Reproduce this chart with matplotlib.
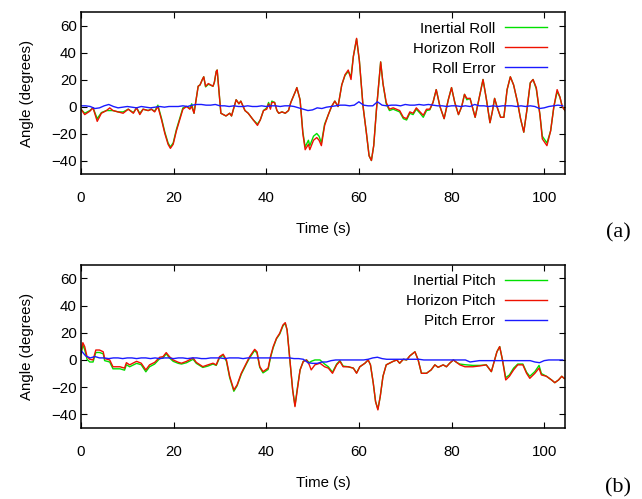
import matplotlib
matplotlib.use("Agg")
import matplotlib.pyplot as plt

plt.rcParams['font.family'] = ['Liberation Sans', 'DejaVu Sans']

# ---------------- Roll data (top panel) ----------------
roll_t = [0, 0.8, 1.9, 2.6, 3.5, 4.4, 5.5, 6.2, 6.9, 8.0,
          9.1, 10.2, 11.3, 12.0, 12.7, 13.4, 14.5, 15.2, 15.9, 16.6,
          17.4, 18.1, 18.8, 19.3, 19.9, 20.6, 21.3, 22.0, 22.8, 23.5,
          23.9, 24.4, 25.3, 25.7, 26.2, 26.5, 26.9, 27.5, 28.5, 28.8,
          29.2, 29.4, 30.2, 31.3, 32.1, 32.5, 33.5, 34.1, 34.5, 35.4,
          36.1, 37.2, 38.1, 38.7, 39.4, 40.1, 40.5, 40.9, 41.2, 41.8,
          42.3, 42.7, 43.4, 44.1, 44.8, 45.3, 46.4, 46.6, 47.3, 47.9,
          48.4, 49.1, 49.4, 50.2, 50.9, 51.4, 51.9, 52.6, 53.4, 54.1,
          54.8, 55.5, 56.3, 57.0, 57.7, 58.3, 58.8, 59.5, 60.1, 60.9,
          61.6, 62.2, 62.7, 63.2, 63.8, 64.3, 64.7, 65.2, 65.9, 66.6,
          67.4, 68.1, 68.8, 69.6, 70.3, 71.0, 71.7, 72.4, 73.2, 73.9,
          74.6, 75.3, 76.0, 76.7, 77.5, 78.4, 79.3, 80.0, 80.7, 81.5,
          82.2, 82.8, 83.3, 84.0, 84.8, 85.1, 85.9, 86.8, 87.5, 88.3,
          88.8, 89.3, 89.8, 90.6, 91.3, 92.0, 92.7, 93.4, 94.2, 94.9,
          95.6, 96.3, 97.0, 97.6, 98.3, 99.1, 99.6, 100.6, 101.4, 102.1,
          102.8, 103.4, 103.9, 104.5]

horizon_roll = [-2, -6, -3.5, -1, -11, -5, -3, -1, -3, -4,
                -5, -2, -5, -1, -6, -2, -3, -2, -4, 0,
                -10, -20, -28, -31, -28, -18, -10, -2, 0, -2,
                0, -5, 15, 16, 20, 22, 15, 17, 15, 18,
                26, 27, -5, -7, -5, -7, 5, 2, 4, -3,
                -5, -10, -14, -10, -3, -2, 2, -2, 3, 3,
                -3, -5, -4, -5, -3, 3, 12, 14, 5, -20,
                -32, -28, -32, -25, -23, -25, -29, -14, -6, 0,
                4, 0, 16, 23.5, 27, 20, 37, 50.5, 34, 0,
                -19, -36.5, -40, -29, -2, 17.5, 33, 17, 3, -2,
                -1, -2, -3, -8, -9, -4, -5, -1, -4, -6.5,
                -2, -2, 3, 12.5, 0, -9, 5, 14, 3, -6,
                0, 9, 6, 6, -4, -8, 5, 20, 6, -12,
                -4, 6, 0, -8, -8, 12.5, 22, 16, 4, -9,
                -19, -2, 17.5, 20, 14, -6.5, -24, -29, -18, 0,
                12.5, 7, 0, -3]

inertial_roll = [-2, -5, -3, -1, -9, -4.5, -3, -3, -3, -4,
                 -4, -2, -4.5, -1, -5, -2, -3, -2, -3.5, 1,
                 -9, -19, -27, -30, -27, -17, -9, -1, 0, -1.5,
                 2, -5, 15, 16, 20, 22, 14.5, 16.5, 15, 18,
                 26, 27, -5, -7, -5, -7, 5, 2, 4, -3,
                 -5, -10, -13, -10, -3, -1, 3, -1, 4, 3,
                 -3, -5, -4, -5, -3, 3, 12, 14, 5, -19,
                 -30, -25, -29, -22, -20, -22, -27, -13, -6, 0,
                 4, 0, 16, 23, 26, 22, 37, 50, 34, 0,
                 -19, -36.5, -40, -29, -2, 17.5, 33, 17, 2, -3,
                 -2, -3, -4, -9, -10, -5, -6, -2, -5, -8,
                 -3, -2.5, 3, 12.5, 0, -9, 5, 14, 3, -6,
                 0, 9, 5, 6, -4, -8, 5, 20, 6, -12,
                 -4, 6, 0, -8, -8, 12.5, 22, 16, 4, -9,
                 -19, -2, 17.5, 20, 13, -6.5, -22, -27, -18, 0,
                 11, 7, 0, -3]

err_t = list(range(0, 105))
roll_error = [0.5, 0.5, 0, -1.5, -1, 0.5, 1.5, 0, -1, -0.5,
              0, -0.5, -1, 0, -0.5, -1, -0.5, 0, -0.5, 0,
              0, 0, 0.5, 0, 1, 1.5, 1.5, 1, 1, 1.5,
              0.5, 0.5, 0, 0.5, 0, 0, 0.5, 0, 0, 0.5,
              0, 0.5, 0.5, 0, 0.5, 0.5, 0, -1, -2, -3,
              -2.5, -1, -1.5, -0.5, 0, 0.5, 1, 1, 0.5, 1,
              3.5, 1, 0.5, 0.5, 3.5, 1, 0.5, 1, 1, 0.5,
              1.5, 1, 1, 1.5, 1, 1.5, 1, 0.5, 0.5, 0,
              0.5, 0.5, 0, 0.5, 0, 1.5, 0.5, 0.5, 0, 0.5,
              0, 0.5, 0.5, 0.5, 0, 0.5, 0, 0.5, 0, -1.5,
              -1, 0, 0.5, 1, 0.5]

# ---------------- Pitch data (bottom panel) ----------------
pitch_t = [0, 0.4, 0.8, 1.3, 1.9, 2.6, 3.2, 4.0, 4.8, 5.1,
           6.2, 6.9, 8.4, 9.4, 9.8, 10.5, 12.0, 13.0, 14.0, 14.8,
           15.9, 17.0, 17.7, 18.4, 19.1, 19.9, 21.0, 21.7, 22.8, 24.2,
           24.9, 26.3, 27.4, 28.5, 29.2, 29.9, 30.7, 31.4, 32.1, 33.0,
           33.7, 34.6, 35.7, 36.4, 37.5, 38.0, 38.6, 39.3, 40.4, 40.9,
           41.5, 42.2, 42.9, 43.6, 44.1, 44.5, 45.1, 45.7, 46.2, 46.7,
           47.3, 48.0, 48.7, 49.3, 49.7, 50.5, 51.6, 52.6, 53.4, 54.3,
           55.2, 55.9, 56.6, 57.7, 58.8, 59.5, 60.2, 61.3, 62.0, 62.5,
           63.1, 63.6, 64.1, 64.6, 65.2, 65.9, 66.6, 67.4, 68.2, 68.8,
           69.6, 70.3, 71.0, 72.1, 72.8, 73.5, 74.6, 75.6, 76.4, 77.1,
           78.2, 78.9, 79.6, 80.4, 81.1, 81.8, 82.9, 84.6, 86.1, 87.5,
           88.6, 89.3, 89.8, 90.4, 91.0, 91.7, 92.5, 93.4, 94.3, 95.4,
           96.2, 96.9, 98.0, 98.9, 99.4, 100.5, 101.6, 102.3, 103.1, 103.8,
           104.3]

horizon_pitch = [5, 12.7, 9.8, 2.4, 0.5, 0, 7.3, 7.3, 6, 1,
                 0, -5, -5, -6, -2, -3.6, -1, -2.4, -7.3, -3.6,
                 -1.8, 2, 2.4, 5.4, 2.4, 0, -1.7, -2.4, -1, 1.5,
                 -1.8, -4.9, -3.6, -2.4, -3.6, 2.4, 4.2, 0, -12, -22,
                 -18.4, -9.8, -2.4, 2.4, 7.8, 6, -4.9, -8.6, -6, 2.4,
                 9.8, 15.9, 19.6, 25.7, 27.4, 22, 0, -22, -34.3, -22,
                 -7.3, -1, 0, -3.6, -7.3, -3.6, -2.4, -5, -6, -9.8,
                 -3.6, -1, -5, -5, -6, -9.8, -5, -2.4, 0, -3.6,
                 -17, -30.6, -36.7, -27, -12, -3.6, -2.4, -1, 0, -2.4,
                 0.5, 0, 3, 6, 0, -9.8, -9.8, -7.3, -3.6, -5.4,
                 -3.6, -5, -2.4, 0, -1.8, -3.6, -5, -5, -4.4, -3.6,
                 -8.6, 0, 6, 9.8, 0, -14.7, -12, -7.3, -3.6, -3.6,
                 -9.8, -13.5, -9.8, -6, -11, -12, -14.7, -16.7, -14.7, -12,
                 -13.5]

inertial_pitch = [4, 11, 7.5, 0.5, -1.5, -1.5, 5.5, 5.5, 4.5, -0.5,
                  -1.5, -6.5, -6.5, -7.5, -3.5, -5, -2.5, -3.5, -8.7, -5,
                  -3, 1, 1.5, 4.5, 1.5, -1, -2.5, -3, -2, 0.5,
                  -2.5, -5.5, -4.5, -3, -4, 1.5, 3.5, -1, -13, -23,
                  -19, -10.5, -3, 1.5, 7, 5, -5.5, -9.5, -7, 1.5,
                  9, 15.5, 19, 25, 27, 22, 0, -22, -33.5, -21,
                  -7.3, -1, 0, -2, -1, 0, 0, -3, -5, -9,
                  -3, -0.5, -4.5, -5, -6, -9.5, -5, -2.4, 0, -3.6,
                  -17, -30.6, -36, -27, -12, -3.6, -2.4, -1, 0, -2.4,
                  0.5, 0, 3, 6, 0, -9.8, -9.8, -7.3, -3.6, -5.4,
                  -3.6, -5, -2.4, 0, -1.8, -3, -3.5, -4, -4, -3.6,
                  -8.6, 0, 6, 9.8, 0, -13, -11, -6, -3, -3,
                  -9, -12, -8.5, -4, -10, -12, -14.7, -16.7, -14.7, -12,
                  -13.5]

pitch_error = [7, 3, 1.5, 2.5, 1.5, 1.5, 1, 1.5, 1.5, 1,
               1.5, 1.5, 1, 1.5, 1.5, 1, 1.5, 1, 1.5, 1.5,
               1, 1.5, 1.5, 1, 1.5, 1.5, 1, 1, 1.5, 1.5,
               1.5, 1, 1.5, 1.5, 1.5, 1, 1.5, 1.5, 1.5, 1.5,
               1.5, 1.5, 1.5, 1.5, 1.5, 1.5, 1, 1, 0.5, -2,
               -2.5, -2.5, -1.5, -1.5, -0.5, 0, 0, 0, 0, 0,
               0, 0, 0.5, 1.5, 2, 1, 0.5, 0.5, 0.5, 0.5,
               0.5, 0.5, 0.5, 0.5, 0, 0, 0, 0, 0, 0,
               0, 0, 0, 0, -1.5, -1, -0.5, -0.5, -0.5, -0.5,
               -0.5, -0.5, -0.5, -0.5, -0.5, -0.5, -0.5, -0.5, -1.5, -2,
               -0.5, 0, 0, 0, 0]

assert len(roll_t) == len(horizon_roll) == len(inertial_roll)
assert len(pitch_t) == len(horizon_pitch) == len(inertial_pitch)
assert len(err_t) == len(roll_error) == len(pitch_error)

x_ticks = [0, 20, 40, 60, 80, 100]
y_ticks = [-40, -20, 0, 20, 40, 60]

GREEN = "#00e000"
RED = "#ee1100"
BLUE = "#1a1aff"
FS = 10.8

fig = plt.figure(figsize=(6.42, 4.99), dpi=100)
ax1 = fig.add_axes([81 / 642, 1 - 174 / 499, 484 / 642, 162 / 499])
ax2 = fig.add_axes([81 / 642, 1 - 428 / 499, 484 / 642, 163.3 / 499])

panels = [
    (ax1, roll_t, inertial_roll, horizon_roll, roll_error,
     ["Inertial Roll", "Horizon Roll", "Roll Error"], "(a)", 233),
    (ax2, pitch_t, inertial_pitch, horizon_pitch, pitch_error,
     ["Inertial Pitch", "Horizon Pitch", "Pitch Error"], "(b)", 488),
]

for ax, t, ine, hor, err, labels, tag, tag_y in panels:
    ax.plot(t, ine, color=GREEN, lw=1.0, label=labels[0])
    ax.plot(t, hor, color=RED, lw=1.0, label=labels[1])
    ax.plot(err_t, err, color=BLUE, lw=1.0, label=labels[2])
    ax.set_xlim(0, 104.5)
    ax.set_ylim(-50, 70)
    ax.set_xticks(x_ticks)
    ax.set_yticks(y_ticks)
    ax.tick_params(direction="in", length=4, width=0.8, top=True, right=True,
                   labelsize=FS, colors="black")
    ax.tick_params(axis="x", pad=12.5)
    ax.tick_params(axis="y", pad=3)
    for s in ax.spines.values():
        s.set_linewidth(1.1)
    ax.set_xlabel("Time (s)", fontsize=FS)
    ax.set_ylabel("Angle (degrees)", fontsize=FS)
    ax.xaxis.set_label_coords(0.5, -0.295)
    ax.yaxis.set_label_coords(-0.097, 0.5)
    leg = ax.legend(loc="upper right", bbox_to_anchor=(0.963, 0.94),
                    frameon=False, markerfirst=False, fontsize=FS,
                    handlelength=2.8, handletextpad=0.65, labelspacing=0.4,
                    borderaxespad=0, borderpad=0)
    fig.text(618 / 642, 1 - tag_y / 499, tag, ha="center", va="center",
             fontsize=16, family=["Liberation Serif", "DejaVu Serif"])

fig.savefig("out.png", dpi=100)
